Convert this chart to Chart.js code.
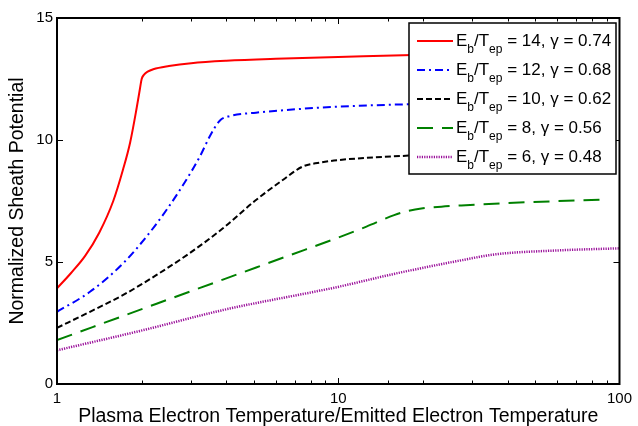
<!DOCTYPE html>
<html>
<head>
<meta charset="utf-8">
<script src="https://cdn.jsdelivr.net/npm/chart.js@4.4.1/dist/chart.umd.min.js"></script>
<style>
  html, body { margin: 0; padding: 0; background: #fff; }
  canvas { display: block; }
</style>
</head>
<body>
<canvas id="chart" width="638" height="426"></canvas>
<script>
// legend values
const ebRatio = [14, 12, 10, 8, 6];
const gammaVals = [0.74, 0.68, 0.62, 0.56, 0.48];

// curves (x = Tpe/Tee, y = normalized sheath potential)
const x14 = [1, 1.122, 1.259, 1.413, 1.585, 1.718, 1.82, 1.919, 1.972, 2.0, 2.04, 2.1, 2.2, 2.5, 3, 4, 6, 10, 20, 40, 86];
const y14 = [3.92, 4.55, 5.25, 6.2, 7.5, 8.8, 9.9, 11.3, 12.1, 12.5, 12.68, 12.8, 12.9, 13.03, 13.15, 13.25, 13.33, 13.4, 13.49, 13.53, 13.56];

const x12 = [1, 1.31, 1.72, 2.08, 2.45, 2.88, 3.22, 3.49, 3.79, 4.11, 5.1, 7.08, 10.07, 20, 40, 86];
const y12 = [2.96, 3.78, 4.95, 6.04, 7.13, 8.36, 9.32, 10.14, 10.79, 10.98, 11.12, 11.26, 11.37, 11.48, 11.55, 11.6];

const x10 = [1, 1.31, 1.72, 2.26, 2.96, 3.89, 5.1, 6.35, 7.47, 8.55, 10.07, 17.8, 40, 86];
const y10 = [2.3, 2.96, 3.65, 4.47, 5.36, 6.38, 7.54, 8.36, 8.91, 9.07, 9.18, 9.36, 9.5, 9.55];

const x8 = [1, 2.26, 3.89, 6.7, 10, 12.6, 15.8, 17.8, 20, 24, 27.4, 47.2, 86];
const y8 = [1.8, 3.29, 4.28, 5.27, 6.0, 6.45, 6.92, 7.1, 7.2, 7.28, 7.32, 7.45, 7.55];

const x6 = [1, 2.03, 3.89, 10.07, 15.9, 27.4, 36, 62, 100];
const y6 = [1.38, 2.21, 3.03, 3.99, 4.52, 5.07, 5.31, 5.48, 5.56];

const seriesX = [x14, x12, x10, x8, x6];
const seriesY = [y14, y12, y10, y8, y6];
const colors = ['#ff0000', '#0000ff', '#000000', '#008000', '#9a0f9a'];
const dashes = [[], [8, 4, 2, 4], [6, 3], [16, 9], [1.2, 1.2]];

const FONT = "'Liberation Sans', Arial, Helvetica, sans-serif";

const datasets = seriesX.map((xs, i) => ({
  label: 'Eb/Tep = ' + ebRatio[i] + ', γ = ' + gammaVals[i],
  data: xs.map((x, j) => ({ x: x, y: seriesY[i][j] })),
  borderColor: colors[i],
  borderWidth: i === 4 ? 2.5 : 2,
  borderDash: dashes[i],
  pointRadius: 0,
  fill: false,
  cubicInterpolationMode: 'monotone'
}));

// box round the plot with inward ticks, matlab style
const boxTicks = {
  id: 'boxTicks',
  afterDatasetsDraw(chart) {
    const ctx = chart.ctx;
    const a = chart.chartArea;
    const xs = chart.scales.x, ys = chart.scales.y;
    ctx.save();
    ctx.strokeStyle = '#000';
    ctx.lineWidth = 1;
    ctx.beginPath();
    xs.ticks.forEach(t => {
      const v = t.value;
      if (v <= 1 || v >= 100) return;
      const px = Math.round(xs.getPixelForValue(v)) + 0.5;
      const len = Math.abs(Math.log10(v) % 1) < 1e-6 ? 6 : 3.5;
      ctx.moveTo(px, a.bottom); ctx.lineTo(px, a.bottom - len);
      ctx.moveTo(px, a.top); ctx.lineTo(px, a.top + len);
    });
    ys.ticks.forEach(t => {
      if (t.value <= 0 || t.value >= 15) return;
      const py = Math.round(ys.getPixelForValue(t.value)) + 0.5;
      ctx.moveTo(a.left, py); ctx.lineTo(a.left + 6, py);
      ctx.moveTo(a.right, py); ctx.lineTo(a.right - 6, py);
    });
    ctx.stroke();
    ctx.lineWidth = 2;
    ctx.strokeRect(a.left, a.top, a.right - a.left, a.bottom - a.top);
    ctx.restore();
  }
};

// legend with subscripts
const subLegend = {
  id: 'subLegend',
  afterDraw(chart) {
    const ctx = chart.ctx;
    const bx = 409, by = 23, bw = 207, bh = 151;
    ctx.save();
    ctx.fillStyle = '#fff';
    ctx.fillRect(bx, by, bw, bh);
    ctx.strokeStyle = '#000';
    ctx.lineWidth = 1.5;
    ctx.strokeRect(bx, by, bw, bh);
    chart.data.datasets.forEach((ds, i) => {
      const ly = 41 + 29 * i;
      ctx.strokeStyle = ds.borderColor;
      ctx.lineWidth = ds.borderWidth;
      ctx.setLineDash(ds.borderDash);
      ctx.beginPath();
      ctx.moveTo(417, ly);
      ctx.lineTo(453, ly);
      ctx.stroke();
      ctx.setLineDash([]);

      const base = ly + 5;
      const parts = [
        ['E', 0], ['b', 1], ['/T', 0], ['ep', 1],
        [' = ' + ebRatio[i] + ', γ = ' + gammaVals[i], 0]
      ];
      let x = 456;
      ctx.fillStyle = '#000';
      ctx.textBaseline = 'alphabetic';
      ctx.textAlign = 'left';
      parts.forEach(([txt, sub]) => {
        ctx.font = (sub ? '12px ' : '17px ') + FONT;
        ctx.fillText(txt, x, sub ? base + 7 : base);
        x += ctx.measureText(txt).width;
      });
    });
    ctx.restore();
  }
};

new Chart(document.getElementById('chart'), {
  type: 'line',
  data: { datasets: datasets },
  options: {
    responsive: false,
    animation: false,
    devicePixelRatio: 1,
    layout: { padding: { top: 18, right: 16, left: 0, bottom: 0 } },
    plugins: {
      legend: { display: false },
      tooltip: { enabled: false }
    },
    scales: {
      x: {
        type: 'logarithmic',
        min: 1,
        max: 100,
        grid: { display: false, drawTicks: false },
        border: { display: false },
        ticks: {
          autoSkip: false,
          maxRotation: 0,
          color: '#000',
          padding: 6,
          font: { family: FONT, size: 15 },
          callback: v => ([1, 10, 100].includes(v) ? String(v) : '')
        },
        title: {
          display: true,
          text: 'Plasma Electron Temperature/Emitted Electron Temperature',
          color: '#000',
          font: { family: FONT, size: 19.5, lineHeight: 1 },
          padding: { top: 0, bottom: 0 }
        },
        afterFit(s) { s.height = 42; }
      },
      y: {
        min: 0,
        max: 15,
        grid: { display: false, drawTicks: false },
        border: { display: false },
        ticks: {
          stepSize: 5,
          color: '#000',
          padding: 4,
          font: { family: FONT, size: 15 }
        },
        title: {
          display: true,
          text: 'Normalized Sheath Potential',
          color: '#000',
          font: { family: FONT, size: 19.5, lineHeight: 1 },
          padding: { top: 8, bottom: 0 }
        },
        afterFit(s) { s.width = 57; }
      }
    }
  },
  plugins: [boxTicks, subLegend]
});
</script>
</body>
</html>
